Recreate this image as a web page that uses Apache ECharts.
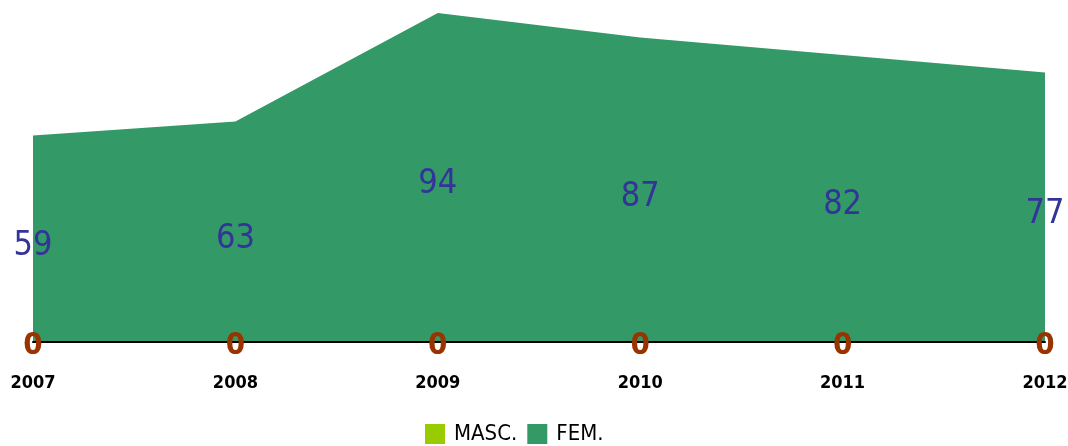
<!DOCTYPE html>
<html><head><meta charset="utf-8">
<script src="https://cdn.jsdelivr.net/npm/echarts@6/dist/echarts.min.js"></script>
<style>html,body{margin:0;padding:0;background:#fff}#c{width:1068px;height:446px}</style>
</head><body><div id="c"></div>
<script>
const years = ['2007','2008','2009','2010','2011','2012'];
const masc = [0,0,0,0,0,0];
const fem = [59,63,94,87,82,77];
const FONT = '"DejaVu Sans"';
const chart = echarts.init(document.getElementById('c'));
chart.setOption({
  animation:false,
  grid:{left:33,right:23,top:13,bottom:104,outerBoundsMode:'none',containLabel:false},
  legend:{bottom:-4,left:420,itemWidth:20,itemHeight:20,itemGap:10,icon:'rect',
    textStyle:{fontFamily:FONT,fontStyle:'condensed',fontSize:22,color:'#000',padding:[0,0,0,4]},
    data:['MASC.','FEM.']},
  xAxis:{type:'category',data:years,boundaryGap:false,z:5,
    axisLine:{lineStyle:{color:'#000',width:2}},axisTick:{show:false},
    axisLabel:{margin:32,fontFamily:FONT,fontStyle:'condensed',fontSize:18,color:'#000',fontWeight:'bold'}},
  yAxis:{type:'value',min:0,max:94,show:false,splitLine:{show:false}},
  series:[
    {name:'MASC.',type:'line',stack:'t',data:masc,symbol:'none',color:'#99cc00',
     lineStyle:{width:0},areaStyle:{color:'#99cc00',opacity:1},z:2},
    {name:'FEM.',type:'line',stack:'t',data:fem,symbol:'none',color:'#339966',
     lineStyle:{width:0},areaStyle:{color:'#339966',opacity:1},z:2},
    {name:'femLabels',type:'scatter',symbolSize:0,z:6,silent:true,itemStyle:{opacity:1},
     data:fem.map((v,i)=>[i,v/2]),
     label:{show:true,position:'inside',offset:[0,7],opacity:1,formatter:p=>fem[p.dataIndex],
       fontFamily:FONT,fontStyle:'condensed',fontSize:34,color:'#333399'}},
    {name:'mascLabels',type:'scatter',symbolSize:0,z:6,silent:true,itemStyle:{opacity:1},
     data:masc.map((v,i)=>[i,v]),
     label:{show:true,position:'inside',offset:[0,4],opacity:1,formatter:p=>masc[p.dataIndex],
       fontFamily:FONT,fontStyle:'condensed',fontWeight:'bold',fontSize:31,color:'#993300'}}
  ]
});
</script></body></html>
